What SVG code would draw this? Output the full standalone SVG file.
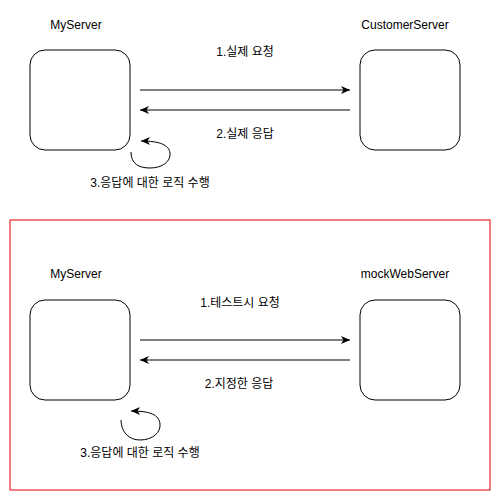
<svg xmlns="http://www.w3.org/2000/svg" width="501" height="501" viewBox="0 0 501 501">
<defs>
<style>
text{font-family:"Liberation Sans","Noto Sans CJK KR",sans-serif;font-size:12px;fill:#000;text-anchor:middle}
.box{fill:#fff;stroke:#000;stroke-width:1}
.ln{fill:none;stroke:#000;stroke-width:1}
</style>
<marker id="ah" markerWidth="10" markerHeight="8" refX="9" refY="4" orient="auto" markerUnits="userSpaceOnUse">
<path d="M0,0 L9,4 L0,8 L2.5,4 Z" fill="#000"/>
</marker>
</defs>
<rect width="501" height="501" fill="#fff"/>
<rect id="frame" x="10" y="220" width="480" height="270" fill="none" stroke="#e00000" stroke-width="1"/>
<g id="myserver1"><rect class="box" x="30" y="50" width="100" height="100" rx="15"/><text x="76" y="29">MyServer</text></g>
<g id="customerserver"><rect class="box" x="360" y="50" width="100" height="100" rx="15"/><text x="405" y="29">CustomerServer</text></g>
<g id="myserver2"><rect class="box" x="30" y="300" width="100" height="100" rx="15"/><text x="76" y="278">MyServer</text></g>
<g id="mockwebserver"><rect class="box" x="360" y="300" width="100" height="100" rx="15"/><text x="405" y="278">mockWebServer</text></g>
<g id="connectors">
<line class="ln" x1="140" y1="90" x2="350" y2="90" marker-end="url(#ah)"/>
<line class="ln" x1="350" y1="110" x2="140" y2="110" marker-end="url(#ah)"/>
<path class="ln" d="M131,152 C131,164 139,168 150,168 C163,168 171,161 170,153 C169,145 160,141 141,141" marker-end="url(#ah)"/>
<line class="ln" x1="140" y1="340" x2="350" y2="340" marker-end="url(#ah)"/>
<line class="ln" x1="350" y1="360" x2="140" y2="360" marker-end="url(#ah)"/>
<path class="ln" d="M121,420 C121,432 129,440 140,440 C153,440 161,432 160,424 C159,415 151,411 131,411" marker-end="url(#ah)"/>
<text x="245" y="56">1.실제 요청</text>
<text x="245" y="138">2.실제 응답</text>
<text x="150" y="187">3.응답에 대한 로직 수행</text>
<text x="240" y="307">1.테스트시 요청</text>
<text x="239" y="388">2.지정한 응답</text>
<text x="140" y="457">3.응답에 대한 로직 수행</text>
</g>
</svg>
